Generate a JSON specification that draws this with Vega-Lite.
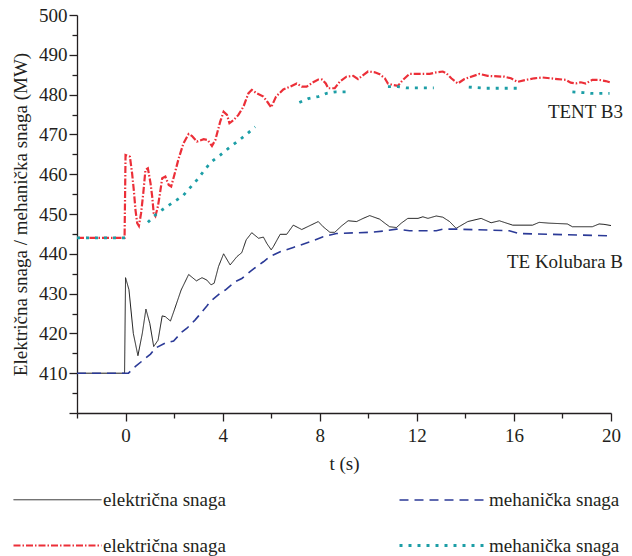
{
  "$schema": "https://vega.github.io/schema/vega-lite/v6.json",
  "width": 534,
  "height": 398,
  "autosize": {"type": "none"},
  "padding": {"left": 77, "top": 15, "right": 21, "bottom": 143},
  "background": "white",
  "config": {
    "view": {"stroke": null},
    "font": "'Liberation Serif', 'Times New Roman', serif",
    "axis": {
      "grid": false,
      "domainColor": "#231f20",
      "domainWidth": 1.3,
      "tickColor": "#231f20",
      "tickWidth": 1.3,
      "labelFont": "'Liberation Serif', 'Times New Roman', serif",
      "labelFontSize": 19,
      "labelColor": "#231f20",
      "labelOverlap": false,
      "labelFlush": false,
      "titleFont": "'Liberation Serif', 'Times New Roman', serif",
      "titleFontSize": 19,
      "titleFontWeight": "normal",
      "titleColor": "#231f20"
    }
  },
  "data": {
    "values": [
      {"t": -2, "p": 410, "s": "električna snaga (TE Kolubara B)"},
      {"t": -0.04, "p": 410, "s": "električna snaga (TE Kolubara B)"},
      {"t": 0.0, "p": 434.0, "s": "električna snaga (TE Kolubara B)"},
      {"t": 0.14, "p": 431.0, "s": "električna snaga (TE Kolubara B)"},
      {"t": 0.32, "p": 420.0, "s": "električna snaga (TE Kolubara B)"},
      {"t": 0.51, "p": 414.4, "s": "električna snaga (TE Kolubara B)"},
      {"t": 0.69, "p": 420.0, "s": "električna snaga (TE Kolubara B)"},
      {"t": 0.84, "p": 426.1, "s": "električna snaga (TE Kolubara B)"},
      {"t": 1.0, "p": 422.5, "s": "električna snaga (TE Kolubara B)"},
      {"t": 1.16, "p": 416.7, "s": "električna snaga (TE Kolubara B)"},
      {"t": 1.34, "p": 418.3, "s": "električna snaga (TE Kolubara B)"},
      {"t": 1.51, "p": 424.4, "s": "električna snaga (TE Kolubara B)"},
      {"t": 1.64, "p": 424.2, "s": "električna snaga (TE Kolubara B)"},
      {"t": 1.85, "p": 423.1, "s": "električna snaga (TE Kolubara B)"},
      {"t": 2.01, "p": 425.9, "s": "električna snaga (TE Kolubara B)"},
      {"t": 2.29, "p": 430.9, "s": "električna snaga (TE Kolubara B)"},
      {"t": 2.6, "p": 434.8, "s": "električna snaga (TE Kolubara B)"},
      {"t": 2.92, "p": 433.2, "s": "električna snaga (TE Kolubara B)"},
      {"t": 3.15, "p": 434.0, "s": "električna snaga (TE Kolubara B)"},
      {"t": 3.35, "p": 433.4, "s": "električna snaga (TE Kolubara B)"},
      {"t": 3.52, "p": 432.2, "s": "električna snaga (TE Kolubara B)"},
      {"t": 3.65, "p": 432.6, "s": "električna snaga (TE Kolubara B)"},
      {"t": 3.83, "p": 436.8, "s": "električna snaga (TE Kolubara B)"},
      {"t": 4.04, "p": 440.0, "s": "električna snaga (TE Kolubara B)"},
      {"t": 4.31, "p": 437.2, "s": "električna snaga (TE Kolubara B)"},
      {"t": 4.59, "p": 439.3, "s": "električna snaga (TE Kolubara B)"},
      {"t": 4.79, "p": 440.3, "s": "električna snaga (TE Kolubara B)"},
      {"t": 4.97, "p": 443.5, "s": "električna snaga (TE Kolubara B)"},
      {"t": 5.2, "p": 445.3, "s": "električna snaga (TE Kolubara B)"},
      {"t": 5.48, "p": 443.9, "s": "električna snaga (TE Kolubara B)"},
      {"t": 5.68, "p": 444.2, "s": "električna snaga (TE Kolubara B)"},
      {"t": 5.82, "p": 442.6, "s": "električna snaga (TE Kolubara B)"},
      {"t": 6.0, "p": 441.0, "s": "električna snaga (TE Kolubara B)"},
      {"t": 6.09, "p": 441.8, "s": "električna snaga (TE Kolubara B)"},
      {"t": 6.37, "p": 444.9, "s": "električna snaga (TE Kolubara B)"},
      {"t": 6.64, "p": 444.9, "s": "električna snaga (TE Kolubara B)"},
      {"t": 6.91, "p": 447.2, "s": "električna snaga (TE Kolubara B)"},
      {"t": 7.26, "p": 446.1, "s": "električna snaga (TE Kolubara B)"},
      {"t": 7.6, "p": 447.1, "s": "električna snaga (TE Kolubara B)"},
      {"t": 7.94, "p": 448.1, "s": "električna snaga (TE Kolubara B)"},
      {"t": 8.14, "p": 446.8, "s": "električna snaga (TE Kolubara B)"},
      {"t": 8.42, "p": 445.4, "s": "električna snaga (TE Kolubara B)"},
      {"t": 8.62, "p": 445.4, "s": "električna snaga (TE Kolubara B)"},
      {"t": 8.9, "p": 447.0, "s": "električna snaga (TE Kolubara B)"},
      {"t": 9.17, "p": 448.3, "s": "električna snaga (TE Kolubara B)"},
      {"t": 9.52, "p": 448.1, "s": "električna snaga (TE Kolubara B)"},
      {"t": 9.79, "p": 448.9, "s": "električna snaga (TE Kolubara B)"},
      {"t": 10.06, "p": 449.6, "s": "električna snaga (TE Kolubara B)"},
      {"t": 10.47, "p": 448.7, "s": "električna snaga (TE Kolubara B)"},
      {"t": 10.68, "p": 447.7, "s": "električna snaga (TE Kolubara B)"},
      {"t": 10.88, "p": 446.8, "s": "električna snaga (TE Kolubara B)"},
      {"t": 11.16, "p": 446.6, "s": "električna snaga (TE Kolubara B)"},
      {"t": 11.36, "p": 447.7, "s": "električna snaga (TE Kolubara B)"},
      {"t": 11.63, "p": 448.9, "s": "električna snaga (TE Kolubara B)"},
      {"t": 12.05, "p": 448.9, "s": "električna snaga (TE Kolubara B)"},
      {"t": 12.25, "p": 449.3, "s": "električna snaga (TE Kolubara B)"},
      {"t": 12.46, "p": 448.9, "s": "električna snaga (TE Kolubara B)"},
      {"t": 12.8, "p": 449.5, "s": "električna snaga (TE Kolubara B)"},
      {"t": 13.07, "p": 449.2, "s": "električna snaga (TE Kolubara B)"},
      {"t": 13.35, "p": 448.1, "s": "električna snaga (TE Kolubara B)"},
      {"t": 13.62, "p": 446.4, "s": "električna snaga (TE Kolubara B)"},
      {"t": 14.1, "p": 448.1, "s": "električna snaga (TE Kolubara B)"},
      {"t": 14.65, "p": 448.9, "s": "električna snaga (TE Kolubara B)"},
      {"t": 15.06, "p": 447.8, "s": "električna snaga (TE Kolubara B)"},
      {"t": 15.4, "p": 448.3, "s": "električna snaga (TE Kolubara B)"},
      {"t": 15.95, "p": 447.2, "s": "električna snaga (TE Kolubara B)"},
      {"t": 16.77, "p": 447.2, "s": "električna snaga (TE Kolubara B)"},
      {"t": 17.04, "p": 447.9, "s": "električna snaga (TE Kolubara B)"},
      {"t": 17.45, "p": 447.7, "s": "električna snaga (TE Kolubara B)"},
      {"t": 18.2, "p": 447.5, "s": "električna snaga (TE Kolubara B)"},
      {"t": 18.41, "p": 446.8, "s": "električna snaga (TE Kolubara B)"},
      {"t": 19.23, "p": 446.8, "s": "električna snaga (TE Kolubara B)"},
      {"t": 19.51, "p": 447.5, "s": "električna snaga (TE Kolubara B)"},
      {"t": 19.71, "p": 447.4, "s": "električna snaga (TE Kolubara B)"},
      {"t": 20.0, "p": 447.1, "s": "električna snaga (TE Kolubara B)"},

      {"t": -2, "p": 410, "s": "mehanička snaga (TE Kolubara B)"},
      {"t": 0.12, "p": 410, "s": "mehanička snaga (TE Kolubara B)"},
      {"t": 0.41, "p": 411.7, "s": "mehanička snaga (TE Kolubara B)"},
      {"t": 1.03, "p": 414.8, "s": "mehanička snaga (TE Kolubara B)"},
      {"t": 1.23, "p": 416.3, "s": "mehanička snaga (TE Kolubara B)"},
      {"t": 1.64, "p": 417.6, "s": "mehanička snaga (TE Kolubara B)"},
      {"t": 1.98, "p": 418.1, "s": "mehanička snaga (TE Kolubara B)"},
      {"t": 2.33, "p": 420.4, "s": "mehanička snaga (TE Kolubara B)"},
      {"t": 2.53, "p": 421.3, "s": "mehanička snaga (TE Kolubara B)"},
      {"t": 2.87, "p": 423.4, "s": "mehanička snaga (TE Kolubara B)"},
      {"t": 3.01, "p": 424.4, "s": "mehanička snaga (TE Kolubara B)"},
      {"t": 3.35, "p": 426.9, "s": "mehanička snaga (TE Kolubara B)"},
      {"t": 3.49, "p": 428.0, "s": "mehanička snaga (TE Kolubara B)"},
      {"t": 3.9, "p": 430.1, "s": "mehanička snaga (TE Kolubara B)"},
      {"t": 4.11, "p": 430.9, "s": "mehanička snaga (TE Kolubara B)"},
      {"t": 4.52, "p": 433.0, "s": "mehanička snaga (TE Kolubara B)"},
      {"t": 4.79, "p": 433.8, "s": "mehanička snaga (TE Kolubara B)"},
      {"t": 5.13, "p": 435.5, "s": "mehanička snaga (TE Kolubara B)"},
      {"t": 5.34, "p": 436.5, "s": "mehanička snaga (TE Kolubara B)"},
      {"t": 5.68, "p": 438.0, "s": "mehanička snaga (TE Kolubara B)"},
      {"t": 5.95, "p": 439.3, "s": "mehanička snaga (TE Kolubara B)"},
      {"t": 6.37, "p": 440.5, "s": "mehanička snaga (TE Kolubara B)"},
      {"t": 6.91, "p": 441.6, "s": "mehanička snaga (TE Kolubara B)"},
      {"t": 7.6, "p": 443.0, "s": "mehanička snaga (TE Kolubara B)"},
      {"t": 8.14, "p": 444.3, "s": "mehanička snaga (TE Kolubara B)"},
      {"t": 8.69, "p": 445.1, "s": "mehanička snaga (TE Kolubara B)"},
      {"t": 10.06, "p": 445.4, "s": "mehanička snaga (TE Kolubara B)"},
      {"t": 10.61, "p": 445.7, "s": "mehanička snaga (TE Kolubara B)"},
      {"t": 11.16, "p": 446.2, "s": "mehanička snaga (TE Kolubara B)"},
      {"t": 11.7, "p": 445.8, "s": "mehanička snaga (TE Kolubara B)"},
      {"t": 12.8, "p": 445.8, "s": "mehanička snaga (TE Kolubara B)"},
      {"t": 13.07, "p": 446.2, "s": "mehanička snaga (TE Kolubara B)"},
      {"t": 13.62, "p": 446.2, "s": "mehanička snaga (TE Kolubara B)"},
      {"t": 15.81, "p": 445.8, "s": "mehanička snaga (TE Kolubara B)"},
      {"t": 16.22, "p": 445.1, "s": "mehanička snaga (TE Kolubara B)"},
      {"t": 20.0, "p": 444.5, "s": "mehanička snaga (TE Kolubara B)"},

      {"t": -2, "p": 444.0, "s": "električna snaga (TENT B3)"},
      {"t": -0.04, "p": 444.0, "s": "električna snaga (TENT B3)"},
      {"t": 0.0, "p": 464.8, "s": "električna snaga (TENT B3)"},
      {"t": 0.18, "p": 464.4, "s": "električna snaga (TENT B3)"},
      {"t": 0.27, "p": 460.2, "s": "električna snaga (TENT B3)"},
      {"t": 0.34, "p": 456.0, "s": "električna snaga (TENT B3)"},
      {"t": 0.41, "p": 451.0, "s": "električna snaga (TENT B3)"},
      {"t": 0.48, "p": 447.7, "s": "električna snaga (TENT B3)"},
      {"t": 0.55, "p": 447.0, "s": "električna snaga (TENT B3)"},
      {"t": 0.64, "p": 450.2, "s": "električna snaga (TENT B3)"},
      {"t": 0.73, "p": 455.2, "s": "električna snaga (TENT B3)"},
      {"t": 0.82, "p": 461.1, "s": "električna snaga (TENT B3)"},
      {"t": 0.92, "p": 461.5, "s": "električna snaga (TENT B3)"},
      {"t": 1.03, "p": 457.7, "s": "električna snaga (TENT B3)"},
      {"t": 1.1, "p": 454.3, "s": "električna snaga (TENT B3)"},
      {"t": 1.16, "p": 450.2, "s": "električna snaga (TENT B3)"},
      {"t": 1.23, "p": 449.5, "s": "električna snaga (TENT B3)"},
      {"t": 1.33, "p": 451.8, "s": "električna snaga (TENT B3)"},
      {"t": 1.41, "p": 454.8, "s": "električna snaga (TENT B3)"},
      {"t": 1.51, "p": 459.0, "s": "električna snaga (TENT B3)"},
      {"t": 1.64, "p": 459.4, "s": "električna snaga (TENT B3)"},
      {"t": 1.78, "p": 457.3, "s": "električna snaga (TENT B3)"},
      {"t": 1.88, "p": 456.9, "s": "električna snaga (TENT B3)"},
      {"t": 2.01, "p": 459.8, "s": "električna snaga (TENT B3)"},
      {"t": 2.19, "p": 464.0, "s": "električna snaga (TENT B3)"},
      {"t": 2.39, "p": 467.8, "s": "električna snaga (TENT B3)"},
      {"t": 2.6, "p": 470.1, "s": "električna snaga (TENT B3)"},
      {"t": 2.74, "p": 469.6, "s": "električna snaga (TENT B3)"},
      {"t": 2.94, "p": 468.2, "s": "električna snaga (TENT B3)"},
      {"t": 3.22, "p": 468.8, "s": "električna snaga (TENT B3)"},
      {"t": 3.38, "p": 468.6, "s": "električna snaga (TENT B3)"},
      {"t": 3.56, "p": 467.1, "s": "električna snaga (TENT B3)"},
      {"t": 3.7, "p": 468.6, "s": "električna snaga (TENT B3)"},
      {"t": 3.9, "p": 473.2, "s": "električna snaga (TENT B3)"},
      {"t": 4.04, "p": 475.7, "s": "električna snaga (TENT B3)"},
      {"t": 4.18, "p": 474.9, "s": "električna snaga (TENT B3)"},
      {"t": 4.28, "p": 472.8, "s": "električna snaga (TENT B3)"},
      {"t": 4.45, "p": 473.6, "s": "električna snaga (TENT B3)"},
      {"t": 4.65, "p": 474.9, "s": "električna snaga (TENT B3)"},
      {"t": 4.86, "p": 477.0, "s": "električna snaga (TENT B3)"},
      {"t": 5.06, "p": 480.3, "s": "električna snaga (TENT B3)"},
      {"t": 5.2, "p": 481.2, "s": "električna snaga (TENT B3)"},
      {"t": 5.41, "p": 480.3, "s": "električna snaga (TENT B3)"},
      {"t": 5.68, "p": 479.5, "s": "električna snaga (TENT B3)"},
      {"t": 5.84, "p": 478.2, "s": "električna snaga (TENT B3)"},
      {"t": 6.0, "p": 476.8, "s": "električna snaga (TENT B3)"},
      {"t": 6.2, "p": 479.5, "s": "električna snaga (TENT B3)"},
      {"t": 6.5, "p": 481.3, "s": "električna snaga (TENT B3)"},
      {"t": 6.78, "p": 482.0, "s": "električna snaga (TENT B3)"},
      {"t": 7.05, "p": 482.8, "s": "električna snaga (TENT B3)"},
      {"t": 7.26, "p": 482.0, "s": "električna snaga (TENT B3)"},
      {"t": 7.46, "p": 482.0, "s": "električna snaga (TENT B3)"},
      {"t": 7.73, "p": 483.1, "s": "električna snaga (TENT B3)"},
      {"t": 7.94, "p": 483.8, "s": "električna snaga (TENT B3)"},
      {"t": 8.1, "p": 483.8, "s": "električna snaga (TENT B3)"},
      {"t": 8.25, "p": 482.8, "s": "električna snaga (TENT B3)"},
      {"t": 8.35, "p": 481.6, "s": "električna snaga (TENT B3)"},
      {"t": 8.62, "p": 481.6, "s": "električna snaga (TENT B3)"},
      {"t": 8.83, "p": 483.3, "s": "električna snaga (TENT B3)"},
      {"t": 9.1, "p": 484.5, "s": "električna snaga (TENT B3)"},
      {"t": 9.38, "p": 484.7, "s": "električna snaga (TENT B3)"},
      {"t": 9.58, "p": 483.9, "s": "električna snaga (TENT B3)"},
      {"t": 9.79, "p": 484.9, "s": "električna snaga (TENT B3)"},
      {"t": 9.99, "p": 485.8, "s": "električna snaga (TENT B3)"},
      {"t": 10.27, "p": 485.6, "s": "električna snaga (TENT B3)"},
      {"t": 10.47, "p": 485.1, "s": "električna snaga (TENT B3)"},
      {"t": 10.68, "p": 484.1, "s": "električna snaga (TENT B3)"},
      {"t": 10.81, "p": 482.8, "s": "električna snaga (TENT B3)"},
      {"t": 11.02, "p": 482.4, "s": "električna snaga (TENT B3)"},
      {"t": 11.22, "p": 482.2, "s": "električna snaga (TENT B3)"},
      {"t": 11.43, "p": 483.7, "s": "električna snaga (TENT B3)"},
      {"t": 11.7, "p": 485.2, "s": "električna snaga (TENT B3)"},
      {"t": 12.53, "p": 485.2, "s": "električna snaga (TENT B3)"},
      {"t": 12.8, "p": 485.6, "s": "električna snaga (TENT B3)"},
      {"t": 13.07, "p": 485.8, "s": "električna snaga (TENT B3)"},
      {"t": 13.21, "p": 485.4, "s": "električna snaga (TENT B3)"},
      {"t": 13.42, "p": 484.1, "s": "električna snaga (TENT B3)"},
      {"t": 13.69, "p": 482.8, "s": "električna snaga (TENT B3)"},
      {"t": 13.96, "p": 483.9, "s": "električna snaga (TENT B3)"},
      {"t": 14.24, "p": 484.5, "s": "električna snaga (TENT B3)"},
      {"t": 14.58, "p": 485.2, "s": "električna snaga (TENT B3)"},
      {"t": 14.92, "p": 484.7, "s": "električna snaga (TENT B3)"},
      {"t": 15.61, "p": 484.5, "s": "električna snaga (TENT B3)"},
      {"t": 15.88, "p": 484.1, "s": "električna snaga (TENT B3)"},
      {"t": 16.15, "p": 483.2, "s": "električna snaga (TENT B3)"},
      {"t": 16.5, "p": 483.7, "s": "električna snaga (TENT B3)"},
      {"t": 16.84, "p": 484.1, "s": "električna snaga (TENT B3)"},
      {"t": 17.18, "p": 484.3, "s": "električna snaga (TENT B3)"},
      {"t": 17.8, "p": 483.9, "s": "električna snaga (TENT B3)"},
      {"t": 18.14, "p": 483.7, "s": "električna snaga (TENT B3)"},
      {"t": 18.34, "p": 483.0, "s": "električna snaga (TENT B3)"},
      {"t": 18.55, "p": 482.8, "s": "električna snaga (TENT B3)"},
      {"t": 18.76, "p": 483.1, "s": "električna snaga (TENT B3)"},
      {"t": 18.96, "p": 482.8, "s": "električna snaga (TENT B3)"},
      {"t": 19.23, "p": 483.7, "s": "električna snaga (TENT B3)"},
      {"t": 19.51, "p": 483.7, "s": "električna snaga (TENT B3)"},
      {"t": 19.78, "p": 483.4, "s": "električna snaga (TENT B3)"},
      {"t": 20.0, "p": 483.0, "s": "električna snaga (TENT B3)"},

      {"t": -2, "p": 444.0, "s": "mehanička snaga (TENT B3)"},
      {"t": 0.0, "p": 444.0, "s": "mehanička snaga (TENT B3)"},
      {"t": 0.5, "p": null, "s": "mehanička snaga (TENT B3)"},
      {"t": 0.92, "p": 447.9, "s": "mehanička snaga (TENT B3)"},
      {"t": 1.27, "p": 450.0, "s": "mehanička snaga (TENT B3)"},
      {"t": 1.64, "p": 451.6, "s": "mehanička snaga (TENT B3)"},
      {"t": 2.37, "p": 454.6, "s": "mehanička snaga (TENT B3)"},
      {"t": 2.98, "p": 458.8, "s": "mehanička snaga (TENT B3)"},
      {"t": 3.26, "p": 461.1, "s": "mehanička snaga (TENT B3)"},
      {"t": 3.53, "p": 463.1, "s": "mehanička snaga (TENT B3)"},
      {"t": 3.9, "p": 464.8, "s": "mehanička snaga (TENT B3)"},
      {"t": 4.28, "p": 466.7, "s": "mehanička snaga (TENT B3)"},
      {"t": 4.65, "p": 468.4, "s": "mehanička snaga (TENT B3)"},
      {"t": 5.0, "p": 470.1, "s": "mehanička snaga (TENT B3)"},
      {"t": 5.34, "p": 471.9, "s": "mehanička snaga (TENT B3)"},
      {"t": 6.2, "p": null, "s": "mehanička snaga (TENT B3)"},
      {"t": 7.16, "p": 478.0, "s": "mehanička snaga (TENT B3)"},
      {"t": 7.53, "p": 479.0, "s": "mehanička snaga (TENT B3)"},
      {"t": 7.94, "p": 479.5, "s": "mehanička snaga (TENT B3)"},
      {"t": 8.28, "p": 480.3, "s": "mehanička snaga (TENT B3)"},
      {"t": 8.67, "p": 480.7, "s": "mehanička snaga (TENT B3)"},
      {"t": 9.1, "p": 480.7, "s": "mehanička snaga (TENT B3)"},
      {"t": 10.0, "p": null, "s": "mehanička snaga (TENT B3)"},
      {"t": 10.81, "p": 482.0, "s": "mehanička snaga (TENT B3)"},
      {"t": 11.2, "p": 482.0, "s": "mehanička snaga (TENT B3)"},
      {"t": 11.57, "p": 481.7, "s": "mehanička snaga (TENT B3)"},
      {"t": 12.7, "p": 481.7, "s": "mehanička snaga (TENT B3)"},
      {"t": 13.4, "p": null, "s": "mehanička snaga (TENT B3)"},
      {"t": 14.14, "p": 481.9, "s": "mehanička snaga (TENT B3)"},
      {"t": 14.78, "p": 481.6, "s": "mehanička snaga (TENT B3)"},
      {"t": 16.3, "p": 481.6, "s": "mehanička snaga (TENT B3)"},
      {"t": 17.3, "p": null, "s": "mehanička snaga (TENT B3)"},
      {"t": 18.41, "p": 480.7, "s": "mehanička snaga (TENT B3)"},
      {"t": 18.85, "p": 480.5, "s": "mehanička snaga (TENT B3)"},
      {"t": 19.2, "p": 480.3, "s": "mehanička snaga (TENT B3)"},
      {"t": 19.94, "p": 480.3, "s": "mehanička snaga (TENT B3)"}
    ]
  },
  "layer": [
    {
      "mark": {"type": "line", "invalid": "break-paths-filter-domains", "strokeCap": "butt"},
      "encoding": {
        "x": {
          "field": "t",
          "type": "quantitative",
          "scale": {"domain": [-2, 20], "nice": false, "zero": false},
          "axis": {
            "title": "t (s)",
            "values": [-2, 0, 2, 4, 6, 8, 10, 12, 14, 16, 18, 20],
            "tickCount": 40,
            "format": "d",
            "labelExpr": "datum.value % 4 == 0 && datum.value >= 0 ? datum.label : ''",
            "labelOverlap": false,
            "tickSize": {"condition": {"test": "datum.value % 4 == 0", "value": 8}, "value": 5},
            "labelPadding": 5,
            "titlePadding": 9
          }
        },
        "y": {
          "field": "p",
          "type": "quantitative",
          "scale": {"domain": [400, 500], "nice": false, "zero": false},
          "axis": {
            "title": "Električna snaga / mehanička snaga (MW)",
            "values": [400, 405, 410, 415, 420, 425, 430, 435, 440, 445, 450, 455, 460, 465, 470, 475, 480, 485, 490, 495, 500],
            "tickCount": 40,
            "format": "d",
            "labelExpr": "datum.value % 10 == 0 && datum.value > 400 ? datum.label : ''",
            "labelOverlap": false,
            "tickSize": {"condition": {"test": "datum.value % 10 == 0", "value": 8}, "value": 5},
            "labelPadding": 2,
            "titlePadding": 8
          }
        },
        "color": {
          "field": "s",
          "type": "nominal",
          "scale": {
            "domain": ["električna snaga (TE Kolubara B)", "mehanička snaga (TE Kolubara B)", "električna snaga (TENT B3)", "mehanička snaga (TENT B3)"],
            "range": ["#1b1b1b", "#2b3a97", "#ec2f38", "#1c9ea6"]
          },
          "legend": {
            "title": null,
            "orient": "none",
            "direction": "horizontal",
            "legendX": -64,
            "legendY": 473,
            "columns": 2,
            "symbolType": "M-4,0H4",
            "symbolSize": 484,
            "symbolOffset": 32,
            "labelOffset": 33,
            "labelFont": "'Liberation Serif', 'Times New Roman', serif",
            "labelFontSize": 19,
            "labelColor": "#231f20",
            "labelLimit": 300,
            "labelExpr": "split(datum.label, ' (')[0]",
            "rowPadding": 23,
            "columnPadding": 167,
            "padding": 0
          }
        },
        "strokeDash": {
          "field": "s",
          "type": "nominal",
          "scale": {
            "domain": ["električna snaga (TE Kolubara B)", "mehanička snaga (TE Kolubara B)", "električna snaga (TENT B3)", "mehanička snaga (TENT B3)"],
            "range": [[1, 0], [9, 6], [7, 2, 1.5, 2], [3, 6]]
          }
        },
        "strokeWidth": {
          "field": "s",
          "type": "nominal",
          "scale": {
            "domain": ["električna snaga (TE Kolubara B)", "mehanička snaga (TE Kolubara B)", "električna snaga (TENT B3)", "mehanička snaga (TENT B3)"],
            "range": [1, 2.8, 1.0, 2.6]
          }
        }
      }
    },
    {
      "data": {
        "values": [
          {"t": 20, "p": 475.6, "label": "TENT B3"},
          {"t": 20, "p": 437.9, "label": "TE Kolubara B"}
        ]
      },
      "mark": {"type": "text", "align": "right", "baseline": "middle", "dx": 12, "font": "'Liberation Serif', 'Times New Roman', serif", "fontSize": 19, "color": "#231f20"},
      "encoding": {
        "x": {"field": "t", "type": "quantitative"},
        "y": {"field": "p", "type": "quantitative"},
        "text": {"field": "label"}
      }
    }
  ]
}
